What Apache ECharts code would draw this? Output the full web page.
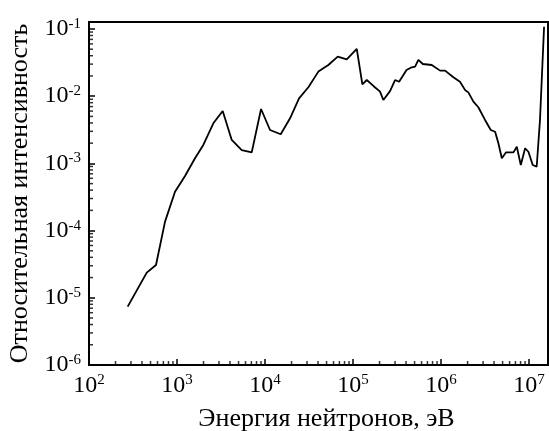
<!DOCTYPE html>
<html>
<head>
<meta charset="utf-8">
<script src="https://cdn.jsdelivr.net/npm/echarts@6/dist/echarts.min.js"></script>
<style>html,body{margin:0;padding:0;background:#fff;}#c{width:549px;height:431px;}</style>
</head>
<body>
<div id="c"></div>
<script>
// Energy (eV) and relative intensity
var energy = [275, 453, 577, 731, 949, 1233, 1601, 1990, 2585, 3305, 4185, 5435, 7060, 9010,
  11400, 15070, 19240, 24340, 31060, 40360, 52360, 67000, 84800, 110200, 127600, 143200, 170200,
  202600, 221000, 263000, 300000, 333500, 405000, 464500, 507000, 552000, 620000, 784000, 975000,
  1.11e6, 1.38e6, 1.64e6, 1.87e6, 2.04e6, 2.33e6, 2.65e6, 3.16e6, 3.67e6, 4.11e6, 4.48e6, 4.90e6,
  5.48e6, 6.64e6, 7.25e6, 8.05e6, 9.01e6, 9.82e6, 1.10e7, 1.22e7, 1.33e7, 1.48e7];
var intensity = [7.4e-6, 2.37e-5, 3.08e-5, 1.36e-4, 3.79e-4, 6.49e-4, 1.19e-3, 1.88e-3, 3.95e-3, 6.02e-3,
  2.23e-3, 1.58e-3, 1.46e-3, 6.45e-3, 3.14e-3, 2.71e-3, 4.69e-3, 9.3e-3, 1.36e-2, 2.32e-2, 2.91e-2,
  3.87e-2, 3.54e-2, 5.04e-2, 1.50e-2, 1.74e-2, 1.42e-2, 1.17e-2, 8.78e-3, 1.19e-2, 1.74e-2, 1.64e-2,
  2.45e-2, 2.69e-2, 2.75e-2, 3.46e-2, 3.01e-2, 2.91e-2, 2.40e-2, 2.40e-2, 1.91e-2, 1.64e-2, 1.24e-2,
  1.14e-2, 8.28e-3, 6.84e-3, 4.43e-3, 3.14e-3, 2.96e-3, 1.99e-3, 1.19e-3, 1.46e-3, 1.46e-3, 1.77e-3,
  9.46e-4, 1.68e-3, 1.49e-3, 9.46e-4, 8.93e-4, 4.43e-3, 0.108];
var xTickExponents = [2, 3, 4, 5, 6, 7];
var yTickExponents = [-6, -5, -4, -3, -2, -1];
var xMin = 100, xMax = 1.64e7, yMin = 1e-6, yMax = 0.127;
var minorMultipliers = [2, 3, 4, 5, 6, 7, 8, 9];

var xMinor = [], yMinor = [];
xTickExponents.forEach(function (e) {
  minorMultipliers.forEach(function (m) {
    var v = m * Math.pow(10, e);
    if (v < xMax) xMinor.push([v, yMin]);
  });
});
yTickExponents.forEach(function (e) {
  minorMultipliers.forEach(function (m) {
    var v = m * Math.pow(10, e);
    if (v < yMax) yMinor.push([xMin, v]);
  });
});

function expLabel(v) {
  var e = Math.round(Math.log(v) / Math.LN10);
  return '{b|10}{s|' + (e < 0 ? '-' + (-e) : e) + '}';
}
var rich = {
  b: { fontFamily: 'Liberation Serif', fontSize: 24, color: '#000' },
  s: { fontFamily: 'Liberation Serif', fontSize: 15, color: '#000', verticalAlign: 'top', padding: [0, 0, 10, 0] }
};

var chart = echarts.init(document.getElementById('c'), null, { renderer: 'canvas' });
chart.setOption({
  animation: false,
  backgroundColor: '#fff',
  grid: { left: 89, right: 1, top: 22, bottom: 66, outerBoundsMode: 'none', containLabel: false,
    show: true, borderColor: '#000', borderWidth: 2, backgroundColor: 'transparent' },
  xAxis: {
    type: 'log', logBase: 10, min: xMin, max: xMax, interval: 1,
    name: 'Энергия нейтронов, эВ', nameLocation: 'middle', nameGap: 41,
    nameTextStyle: { fontFamily: 'Liberation Serif', fontSize: 26, color: '#000', padding: [0, 0, 0, 16] },
    axisLine: { show: true, onZero: false, lineStyle: { color: '#000', width: 2 } },
    axisTick: { show: true, inside: true, length: 6, lineStyle: { color: '#000', width: 1.5 } },
    minorTick: { show: false },
    splitLine: { show: false },
    axisLabel: { margin: 8, formatter: expLabel, rich: rich, showMaxLabel: false }
  },
  yAxis: {
    type: 'log', logBase: 10, min: yMin, max: yMax, interval: 1,
    name: 'Относительная интенсивность', nameLocation: 'middle', nameGap: 54, nameRotate: 90,
    nameTextStyle: { fontFamily: 'Liberation Serif', fontSize: 26, color: '#000' },
    axisLine: { show: true, onZero: false, lineStyle: { color: '#000', width: 2 } },
    axisTick: { show: true, inside: true, length: 6, lineStyle: { color: '#000', width: 1.5 } },
    splitLine: { show: false },
    axisLabel: { margin: 8, formatter: expLabel, rich: rich, showMaxLabel: false }
  },
  series: [
    {
      type: 'line', data: energy.map(function (e, i) { return [e, intensity[i]]; }),
      showSymbol: false, symbol: 'none', lineStyle: { color: '#000', width: 1.8 }, silent: true
    },
    {
      type: 'scatter', data: xMinor, symbol: 'rect', symbolSize: [1.5, 4], symbolOffset: [0, -2],
      itemStyle: { color: '#000' }, clip: false, silent: true
    },
    {
      type: 'scatter', data: yMinor, symbol: 'rect', symbolSize: [4, 1.5], symbolOffset: [2, 0],
      itemStyle: { color: '#000' }, clip: false, silent: true
    }
  ]
});
</script>
</body>
</html>
